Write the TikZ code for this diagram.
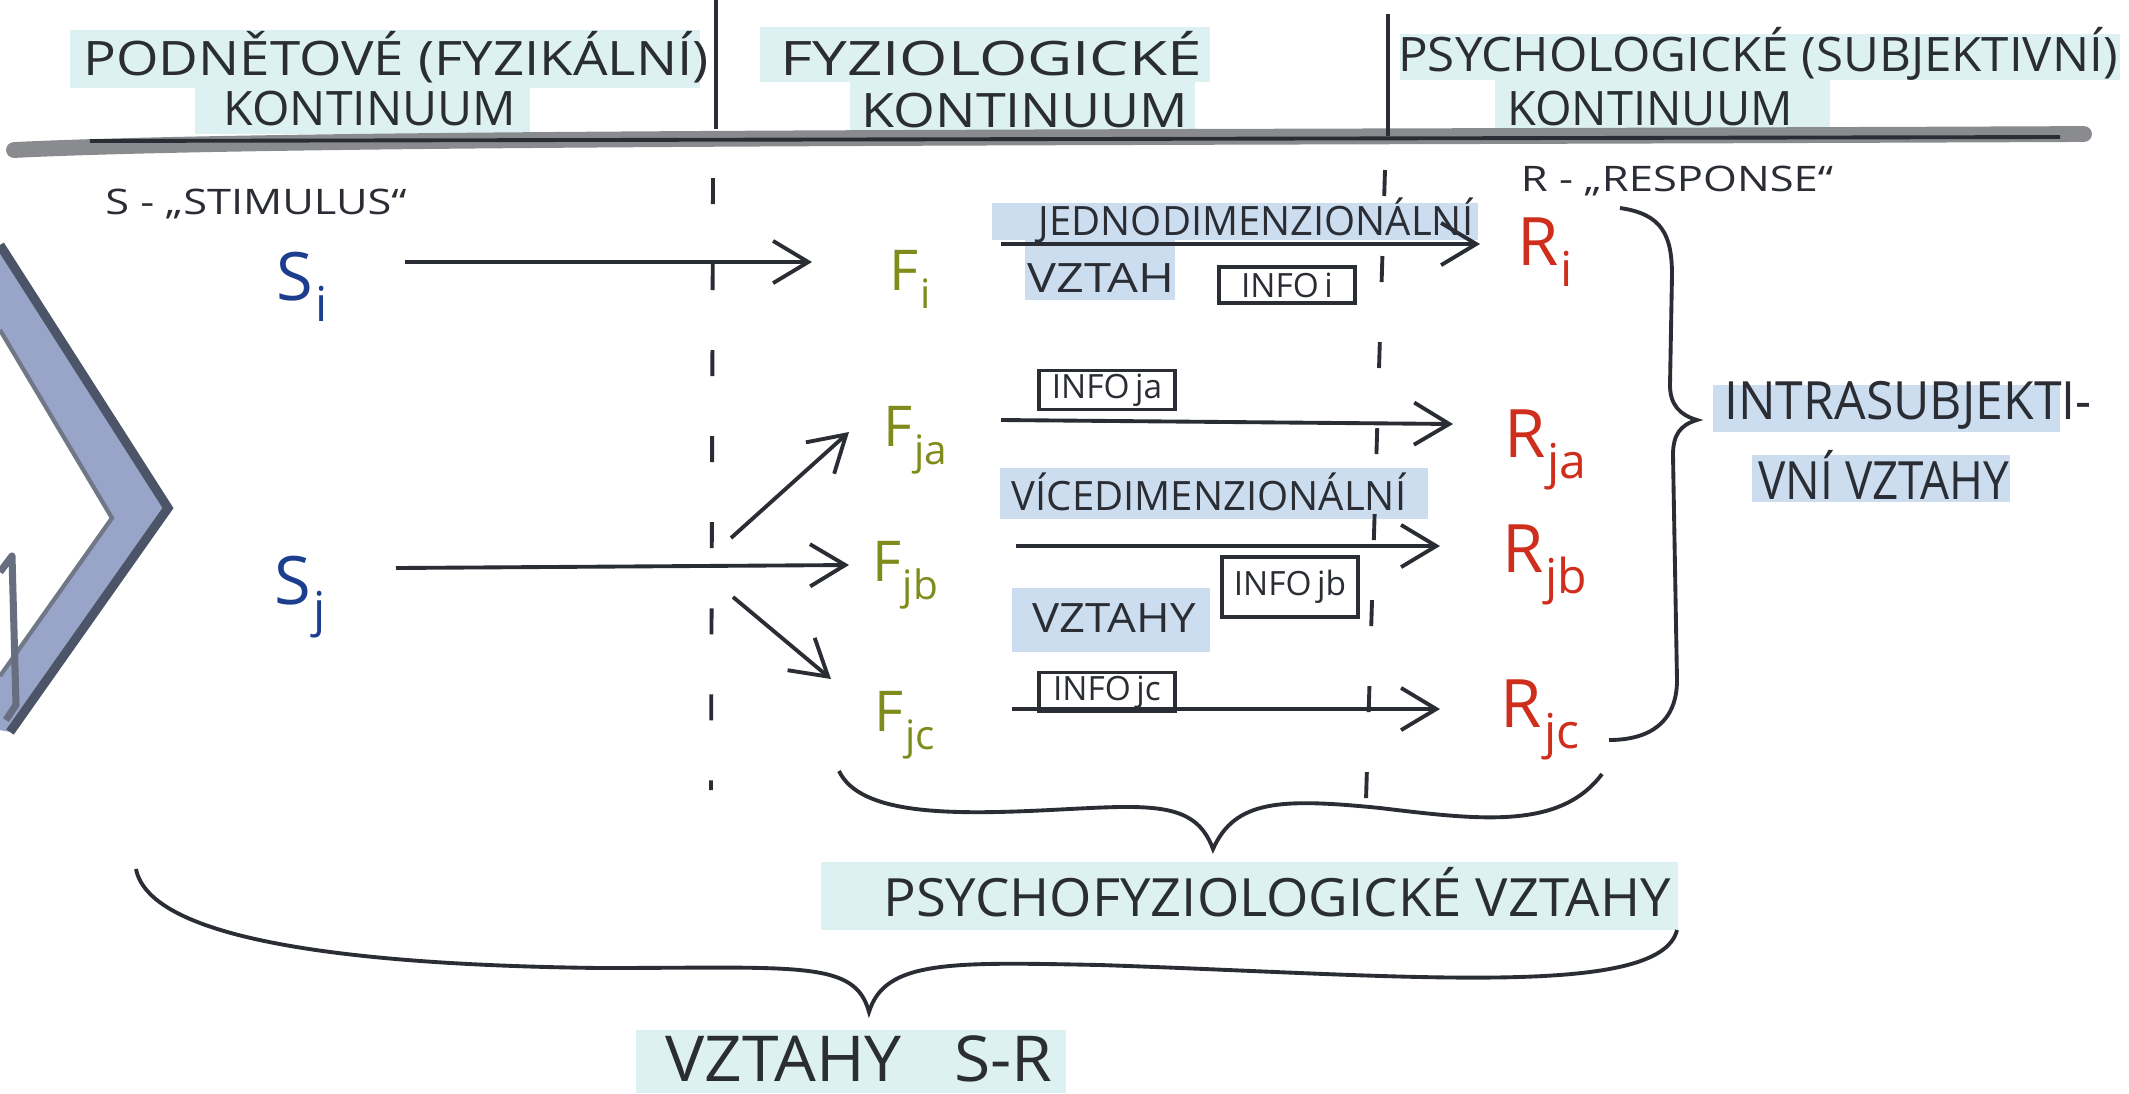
\documentclass[tikz,border=0pt]{standalone}
\usepackage{fontspec}
\setmainfont{Open Sans}
\usepackage{graphicx}
\usetikzlibrary{arrows.meta,calc}
\definecolor{ink}{HTML}{2A2D33}
\definecolor{hlcyan}{HTML}{DDF1F3}
\definecolor{hlblue}{HTML}{CCDDEF}
\definecolor{sblue}{HTML}{1D3E8E}
\definecolor{folive}{HTML}{7F8C1C}
\definecolor{rred}{HTML}{CF2E1C}
\definecolor{chevfill}{HTML}{98A4C8}
\definecolor{chevedge}{HTML}{4C5568}
% stretch a text to a given width, keeping its height
\newcommand\tw[2]{\resizebox{#1}{\height}{#2}}
% letter with a lowered index
\newcommand\lsub[2]{#1\kern0.5pt\raisebox{-0.32em}{\scalebox{0.72}{#2}}}

\begin{document}
\begin{tikzpicture}[x=0.01cm,y=-0.01cm,
  lbl/.style={inner sep=0pt,text=ink},
  head/.style={lbl,font=\fontsize{13.5}{16}\selectfont},
  small/.style={lbl,font=\fontsize{10}{12}\selectfont},
  mid/.style={lbl,font=\fontsize{11.5}{14}\selectfont},
  big/.style={lbl,font=\fontsize{15}{18}\selectfont},
  sym/.style={inner sep=0pt,font=\fontsize{19}{21}\selectfont},
  ssym/.style={sym,text=sblue},
  fsym/.style={sym,text=folive,font=\fontsize{16}{18}\selectfont},
  rsym/.style={sym,text=rred},
  infobox/.style={draw=ink,line width=0.9pt,inner sep=1pt,text=ink,
    font=\fontsize{9.5}{10}\selectfont,minimum width=1.36cm,minimum height=0.36cm},
  arr/.style={draw=ink,line width=1.1pt,-{Straight Barb[length=10pt,width=12pt]}},
  inkline/.style={draw=ink,line width=1.1pt},
  guide/.style={draw=ink,line width=1.1pt,dash pattern=on 0.26cm off 0.6cm},
  hl/.style={fill=hlblue,draw=none},
  hc/.style={fill=hlcyan,draw=none}]

\useasboundingbox[fill=white] (0,0) rectangle (2129,1093);

% marker highlights
\fill[hc] (70,30) rectangle (700,88);
\fill[hc] (195,86) rectangle (530,134);
\fill[hc] (760,27) rectangle (1210,82);
\fill[hc] (850,80) rectangle (1195,130);
\fill[hc] (1400,34) rectangle (2120,80);
\fill[hc] (1495,80) rectangle (1830,128);
\fill[hl] (992,203) rectangle (1478,240);
\fill[hl] (1025,240) rectangle (1175,300);
\fill[hl] (1000,468) rectangle (1428,519);
\fill[hl] (1012,588) rectangle (1210,652);
\fill[hl] (1713,385) rectangle (2060,432);
\fill[hl] (1752,455) rectangle (2010,502);
\fill[hc] (821,862) rectangle (1678,930);
\fill[hc] (636,1030) rectangle (1066,1093);

% big chevron on the left edge
\fill[chevfill] (0,245) -- (168,508) -- (10,732) -- (0,730) -- (0,676)
  -- (112,518) -- (0,330) -- cycle;
\draw[chevedge,line width=2.6pt,line join=miter] (0,245) -- (168,508) -- (10,732);
\draw[chevedge!80,line width=1.2pt] (0,330) -- (112,518) -- (0,676);
\draw[chevedge!85,line width=2pt,line join=round] (0,572) -- (12,556) -- (16,705) -- (6,720);

% header
\draw[ink!55,line width=4.5pt,line cap=round] (14,150) .. controls (300,136) and (1200,138) .. (2084,134);
\draw[inkline] (90,141) -- (2060,137);
\draw[inkline] (716,0) -- (716,129);
\draw[inkline] (1388,14) -- (1388,136);

\node[head] (h1a) at (396,57) {\tw{6.25cm}{PODNĚTOVÉ (FYZIKÁLNÍ)}};
\node[head] (h1b) at (370,109) {\tw{2.92cm}{KONTINUUM}};
\node[head] (h2a) at (991,54) {\tw{4.21cm}{FYZIOLOGICKÉ}};
\node[head] (h2b) at (1025,111) {\tw{3.26cm}{KONTINUUM}};
\node[head] (h3a) at (1758,54) {\tw{7.19cm}{PSYCHOLOGICKÉ (SUBJEKTIVNÍ)}};
\node[head] (h3b) at (1650,109) {\tw{2.85cm}{KONTINUUM}};

% column guides
\draw[guide] (713,178) -- (711,790);
\draw[guide] (1385,170) -- (1366,800);

\node[small] (stim) at (256,204) {\tw{3.01cm}{S - „STIMULUS“}};
\node[small] (resp) at (1677,181) {\tw{3.12cm}{R - „RESPONSE“}};

% stimuli, physiological states, responses
\node[ssym] (Si) at (302,287) {\lsub{S}{i}};
\node[ssym] (Sj) at (300,597) {\lsub{S}{j}};
\node[fsym] (Fi) at (910,279) {\lsub{F}{i}};
\node[fsym] (Fja) at (915,440) {\lsub{F}{ja}};
\node[fsym] (Fjb) at (905,575) {\lsub{F}{jb}};
\node[fsym] (Fjc) at (905,725) {\lsub{F}{jc}};
\node[rsym] (Ri) at (1545,252) {\lsub{R}{i}};
\node[rsym] (Rja) at (1545,450) {\lsub{R}{ja}};
\node[rsym] (Rjb) at (1545,565) {\lsub{R}{jb}};
\node[rsym] (Rjc) at (1540,720) {\lsub{R}{jc}};

% stimulus -> physiology
\draw[arr] ($(Si)+(103,-25)$) -- ($(Fi)+(-98,-17)$);
\draw[arr] ($(Sj)+(96,-29)$) -- ($(Fjb)+(-56,-10)$);
\draw[arr] ($(Sj)+(431,-59)$) -- ($(Fja)+(-66,-8)$);
\draw[arr] ($(Sj)+(433,0)$) -- ($(Fjc)+(-74,-46)$);

% physiology -> response
\draw[arr] ($(Fi)+(91,-35)$) -- ($(Ri)+(-65,-8)$);
\draw[arr] ($(Fja)+(86,-20)$) -- ($(Rja)+(-92,-26)$);
\draw[arr] ($(Fjb)+(111,-29)$) -- ($(Rjb)+(-105,-19)$);
\draw[arr] ($(Fjc)+(107,-16)$) -- ($(Rjc)+(-100,-11)$);

% relation labels
\node[mid] (jedno) at (1256,220) {\tw{4.34cm}{JEDNODIMENZIONÁLNÍ}};
\node[mid] (vztah) at (1101,278) {\tw{1.47cm}{VZTAH}};
\node[infobox] (ii) at (1287,285) {INFO\,i};
\node[infobox] (ija) at (1107,390) {INFO\,ja};
\node[mid] (vice) at (1209,492) {\tw{3.94cm}{VÍCEDIMENZIONÁLNÍ}};
\node[infobox,minimum height=0.6cm] (ijb) at (1290,587) {INFO\,jb};
\node[mid] (vztahy) at (1114,618) {\tw{1.63cm}{VZTAHY}};
\node[infobox] (ijc) at (1107,692) {INFO\,jc};

% braces
\draw[inkline] (1620,208) .. controls (1662,214) and (1672,235) .. (1672,275)
  -- (1670,385) .. controls (1670,405) and (1680,415) .. (1697,420)
  .. controls (1680,425) and (1673,435) .. (1673,455)
  -- (1677,680) .. controls (1677,722) and (1650,740) .. (1609,740);
\node[big] (intra) at (1908,405) {\tw{3.67cm}{INTRASUBJEKTI-}};
\node[big] (vni) at (1884,475) {\tw{2.51cm}{VNÍ VZTAHY}};

\draw[inkline] (839,771) .. controls (860,815) and (950,815) .. (1050,810)
  .. controls (1150,805) and (1195,800) .. (1213,849)
  .. controls (1235,800) and (1280,798) .. (1380,808)
  .. controls (1480,820) and (1560,830) .. (1602,774);
\node[big] (psy) at (1277,892) {\tw{7.87cm}{PSYCHOFYZIOLOGICKÉ VZTAHY}};

\draw[inkline] (136,869) .. controls (150,940) and (350,965) .. (600,968)
  .. controls (800,968) and (855,960) .. (869,1012)
  .. controls (885,960) and (950,962) .. (1100,965)
  .. controls (1400,975) and (1660,1000) .. (1677,930);
\node[lbl,font=\fontsize{18}{20}\selectfont] (sr) at (859,1059) {\tw{3.87cm}{VZTAHY\hspace{0.8em}S-R}};
\end{tikzpicture}
\end{document}
